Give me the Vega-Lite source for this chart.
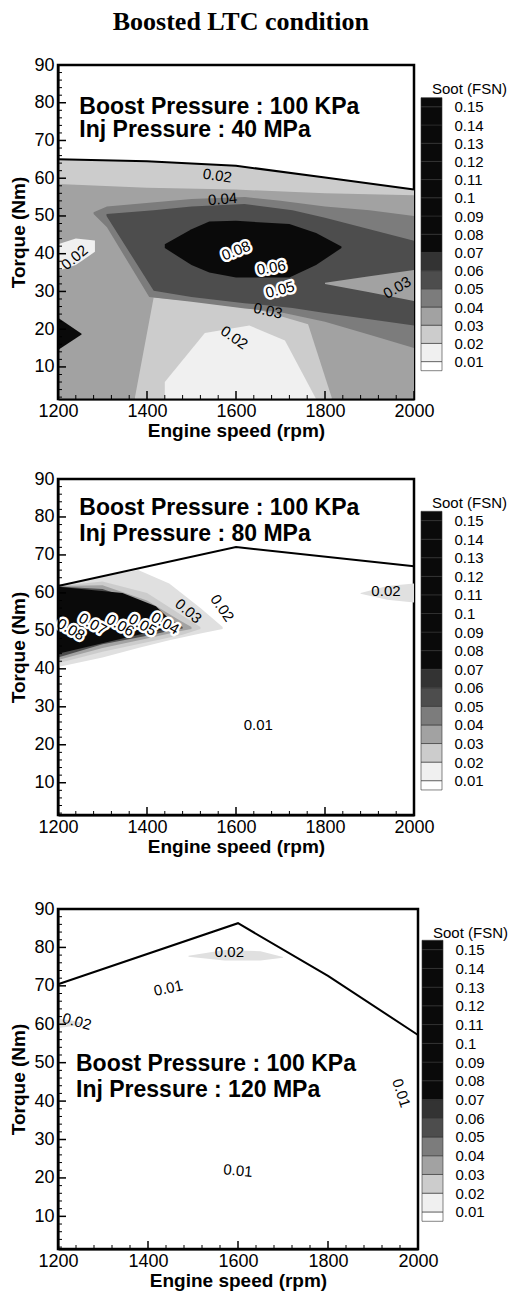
{
"$schema": "https://vega.github.io/schema/vega-lite/v6.json",
"padding": {"left": 8, "top": 8, "right": 0, "bottom": 0},
"background": "white",
"title": {"text": "Boosted LTC condition", "font": "Liberation Serif", "fontSize": 26, "fontWeight": "bold", "anchor": "start", "dx": 104, "offset": 20, "color": "black"},
"config": {
  "view": {"stroke": "black", "strokeWidth": 2.5},
  "text": {"font": "Liberation Sans", "fontSize": 15, "align": "center", "baseline": "middle", "color": "black"},
  "tick": {"opacity": 1, "color": "black"},
  "axis": {"labelFont": "Liberation Sans", "titleFont": "Liberation Sans", "labelColor": "black", "titleColor": "black", "tickColor": "black", "grid": false}
},
"datasets": {
  "xM": [{"v": 1200}, {"v": 1400}, {"v": 1600}, {"v": 1800}, {"v": 2000}],
  "xm": [{"v": 1240}, {"v": 1280}, {"v": 1320}, {"v": 1360}, {"v": 1440}, {"v": 1480}, {"v": 1520}, {"v": 1560}, {"v": 1640}, {"v": 1680}, {"v": 1720}, {"v": 1760}, {"v": 1840}, {"v": 1880}, {"v": 1920}, {"v": 1960}],
  "yM": [{"v": 10}, {"v": 20}, {"v": 30}, {"v": 40}, {"v": 50}, {"v": 60}, {"v": 70}, {"v": 80}, {"v": 90}],
  "ym": [{"v": 2}, {"v": 4}, {"v": 6}, {"v": 8}, {"v": 12}, {"v": 14}, {"v": 16}, {"v": 18}, {"v": 22}, {"v": 24}, {"v": 26}, {"v": 28}, {"v": 32}, {"v": 34}, {"v": 36}, {"v": 38}, {"v": 42}, {"v": 44}, {"v": 46}, {"v": 48}, {"v": 52}, {"v": 54}, {"v": 56}, {"v": 58}, {"v": 62}, {"v": 64}, {"v": 66}, {"v": 68}, {"v": 72}, {"v": 74}, {"v": 76}, {"v": 78}, {"v": 82}, {"v": 84}, {"v": 86}, {"v": 88}],
  "bar": [
    {"lo": 0.005, "hi": 0.01, "s": "L0"}, {"lo": 0.01, "hi": 0.02, "s": "L1"}, {"lo": 0.02, "hi": 0.03, "s": "L2"},
    {"lo": 0.03, "hi": 0.04, "s": "L3"}, {"lo": 0.04, "hi": 0.05, "s": "L4"}, {"lo": 0.05, "hi": 0.06, "s": "L5"},
    {"lo": 0.06, "hi": 0.07, "s": "L6"}, {"lo": 0.07, "hi": 0.08, "s": "L7"}, {"lo": 0.08, "hi": 0.09, "s": "L7"},
    {"lo": 0.09, "hi": 0.1, "s": "L7"}, {"lo": 0.1, "hi": 0.11, "s": "L7"}, {"lo": 0.11, "hi": 0.12, "s": "L7"},
    {"lo": 0.12, "hi": 0.13, "s": "L7"}, {"lo": 0.13, "hi": 0.14, "s": "L7"}, {"lo": 0.14, "hi": 0.15, "s": "L7"},
    {"lo": 0.15, "hi": 0.155, "s": "L7"}
  ],
  "p1reg": [
    {"r": 1, "s": "L2", "rpm": 1200, "lo": 1.5, "hi": 65}, {"r": 1, "s": "L2", "rpm": 1400, "lo": 1.5, "hi": 64.5}, {"r": 1, "s": "L2", "rpm": 1600, "lo": 1.5, "hi": 63.3}, {"r": 1, "s": "L2", "rpm": 1800, "lo": 1.5, "hi": 60.2}, {"r": 1, "s": "L2", "rpm": 2000, "lo": 1.5, "hi": 57},
    {"r": 2, "s": "L3", "rpm": 1200, "lo": 1.5, "hi": 58.5}, {"r": 2, "s": "L3", "rpm": 1400, "lo": 1.5, "hi": 57.5}, {"r": 2, "s": "L3", "rpm": 1600, "lo": 1.5, "hi": 57}, {"r": 2, "s": "L3", "rpm": 1800, "lo": 1.5, "hi": 56}, {"r": 2, "s": "L3", "rpm": 2000, "lo": 1.5, "hi": 55.5},
    {"r": 3, "s": "L2", "rpm": 1373, "lo": 1.5, "hi": 2}, {"r": 3, "s": "L2", "rpm": 1415, "lo": 1.5, "hi": 28.4}, {"r": 3, "s": "L2", "rpm": 1500, "lo": 1.5, "hi": 27.5}, {"r": 3, "s": "L2", "rpm": 1649, "lo": 1.5, "hi": 25.2}, {"r": 3, "s": "L2", "rpm": 1762, "lo": 1.5, "hi": 21.3}, {"r": 3, "s": "L2", "rpm": 1815, "lo": 1.5, "hi": 1.9},
    {"r": 4, "s": "L1", "rpm": 1440, "lo": 1.5, "hi": 6}, {"r": 4, "s": "L1", "rpm": 1530, "lo": 1.5, "hi": 19}, {"r": 4, "s": "L1", "rpm": 1630, "lo": 1.5, "hi": 21}, {"r": 4, "s": "L1", "rpm": 1710, "lo": 1.5, "hi": 17}, {"r": 4, "s": "L1", "rpm": 1780, "lo": 1.5, "hi": 1.5},
    {"r": 5, "s": "L1", "rpm": 1200, "lo": 35.5, "hi": 42.5}, {"r": 5, "s": "L1", "rpm": 1240, "lo": 37, "hi": 44}, {"r": 5, "s": "L1", "rpm": 1283, "lo": 40.5, "hi": 43.5},
    {"r": 6, "s": "L7", "rpm": 1200, "lo": 14.5, "hi": 23}, {"r": 6, "s": "L7", "rpm": 1253, "lo": 18.6, "hi": 18.8},
    {"r": 7, "s": "L4", "rpm": 1280, "lo": 50.5, "hi": 51}, {"r": 7, "s": "L4", "rpm": 1310, "lo": 47, "hi": 52.5}, {"r": 7, "s": "L4", "rpm": 1405, "lo": 28.5, "hi": 53.5}, {"r": 7, "s": "L4", "rpm": 1500, "lo": 27.3, "hi": 54.5}, {"r": 7, "s": "L4", "rpm": 1620, "lo": 25.5, "hi": 55}, {"r": 7, "s": "L4", "rpm": 1700, "lo": 24.5, "hi": 54}, {"r": 7, "s": "L4", "rpm": 1800, "lo": 22, "hi": 52.5}, {"r": 7, "s": "L4", "rpm": 1900, "lo": 18.5, "hi": 51.5}, {"r": 7, "s": "L4", "rpm": 2000, "lo": 15, "hi": 50},
    {"r": 8, "s": "L5", "rpm": 1309, "lo": 50, "hi": 50.5}, {"r": 8, "s": "L5", "rpm": 1415, "lo": 30.2, "hi": 51.5}, {"r": 8, "s": "L5", "rpm": 1500, "lo": 28.5, "hi": 52.5}, {"r": 8, "s": "L5", "rpm": 1619, "lo": 26.9, "hi": 53.2}, {"r": 8, "s": "L5", "rpm": 1727, "lo": 25.6, "hi": 51.5}, {"r": 8, "s": "L5", "rpm": 1800, "lo": 24.3, "hi": 49.5}, {"r": 8, "s": "L5", "rpm": 1900, "lo": 22.6, "hi": 46.5}, {"r": 8, "s": "L5", "rpm": 2000, "lo": 21, "hi": 43.4},
    {"r": 9, "s": "L3", "rpm": 1800, "lo": 32, "hi": 32.3}, {"r": 9, "s": "L3", "rpm": 1900, "lo": 29.8, "hi": 34}, {"r": 9, "s": "L3", "rpm": 2000, "lo": 27.5, "hi": 35.7},
    {"r": 11, "s": "L7", "rpm": 1440, "lo": 41.5, "hi": 42.5}, {"r": 11, "s": "L7", "rpm": 1500, "lo": 37, "hi": 46.5}, {"r": 11, "s": "L7", "rpm": 1540, "lo": 35, "hi": 48.5}, {"r": 11, "s": "L7", "rpm": 1600, "lo": 33.7, "hi": 48.7}, {"r": 11, "s": "L7", "rpm": 1720, "lo": 33.7, "hi": 47.9}, {"r": 11, "s": "L7", "rpm": 1780, "lo": 37, "hi": 45.5}, {"r": 11, "s": "L7", "rpm": 1837, "lo": 41.5, "hi": 41.9}
  ],
  "p1bnd": [{"rpm": 1200, "tq": 65}, {"rpm": 1400, "tq": 64.5}, {"rpm": 1600, "tq": 63.3}, {"rpm": 1800, "tq": 60.2}, {"rpm": 2000, "tq": 57}],
  "p2reg": [
    {"r": 1, "s": "Ld", "rpm": 1200, "lo": 40.5, "hi": 61.8}, {"r": 1, "s": "Ld", "rpm": 1300, "lo": 43, "hi": 64.3}, {"r": 1, "s": "Ld", "rpm": 1380, "lo": 45.5, "hi": 66}, {"r": 1, "s": "Ld", "rpm": 1450, "lo": 47.5, "hi": 62.5}, {"r": 1, "s": "Ld", "rpm": 1520, "lo": 49.3, "hi": 56}, {"r": 1, "s": "Ld", "rpm": 1570, "lo": 50.5, "hi": 51},
    {"r": 2, "s": "L2", "rpm": 1200, "lo": 41.5, "hi": 61.8}, {"r": 2, "s": "L2", "rpm": 1300, "lo": 44.5, "hi": 63}, {"r": 2, "s": "L2", "rpm": 1400, "lo": 47, "hi": 60}, {"r": 2, "s": "L2", "rpm": 1480, "lo": 49, "hi": 54}, {"r": 2, "s": "L2", "rpm": 1520, "lo": 50.5, "hi": 51},
    {"r": 3, "s": "L3", "rpm": 1200, "lo": 42.3, "hi": 61.8}, {"r": 3, "s": "L3", "rpm": 1300, "lo": 45.5, "hi": 62}, {"r": 3, "s": "L3", "rpm": 1400, "lo": 48, "hi": 58}, {"r": 3, "s": "L3", "rpm": 1470, "lo": 49.8, "hi": 53}, {"r": 3, "s": "L3", "rpm": 1500, "lo": 50.5, "hi": 51},
    {"r": 4, "s": "L5", "rpm": 1200, "lo": 43, "hi": 61.7}, {"r": 4, "s": "L5", "rpm": 1300, "lo": 46.5, "hi": 61}, {"r": 4, "s": "L5", "rpm": 1400, "lo": 48.7, "hi": 57}, {"r": 4, "s": "L5", "rpm": 1460, "lo": 50.2, "hi": 52.5}, {"r": 4, "s": "L5", "rpm": 1480, "lo": 50.6, "hi": 51},
    {"r": 5, "s": "L7", "rpm": 1200, "lo": 44, "hi": 61.6}, {"r": 5, "s": "L7", "rpm": 1345, "lo": 48, "hi": 60}, {"r": 5, "s": "L7", "rpm": 1420, "lo": 50, "hi": 56.5}, {"r": 5, "s": "L7", "rpm": 1470, "lo": 50.6, "hi": 50.9},
    {"r": 6, "s": "Ld", "rpm": 1880, "lo": 59.8, "hi": 60}, {"r": 6, "s": "Ld", "rpm": 1940, "lo": 58.2, "hi": 61.8}, {"r": 6, "s": "Ld", "rpm": 2000, "lo": 57.5, "hi": 62.5}
  ],
  "p2bnd": [{"rpm": 1200, "tq": 61.8}, {"rpm": 1600, "tq": 72.1}, {"rpm": 2000, "tq": 67}],
  "p3reg": [
    {"r": 1, "s": "Ld", "rpm": 1490, "lo": 77.6, "hi": 77.8}, {"r": 1, "s": "Ld", "rpm": 1570, "lo": 76.6, "hi": 79.3}, {"r": 1, "s": "Ld", "rpm": 1650, "lo": 76.6, "hi": 79}, {"r": 1, "s": "Ld", "rpm": 1700, "lo": 77.3, "hi": 77.5},
    {"r": 2, "s": "Ld", "rpm": 1200, "lo": 59, "hi": 61.5}, {"r": 2, "s": "Ld", "rpm": 1230, "lo": 59.5, "hi": 61}, {"r": 2, "s": "Ld", "rpm": 1255, "lo": 60, "hi": 60.3}
  ],
  "p3bnd": [{"rpm": 1200, "tq": 70.4}, {"rpm": 1600, "tq": 86.3}, {"rpm": 1800, "tq": 72.6}, {"rpm": 2000, "tq": 57.2}]
},
"spacing": 40,
"vconcat": [
 {
  "spacing": 26,
  "vconcat": [
   {
    "spacing": 7,
    "bounds": "flush",
    "hconcat": [
     {
      "width": 356, "height": 334,
      "resolve": {"axis": {"x": "independent", "y": "independent"}},
      "layer": [
       {
        "data": {"name": "p1reg"},
        "mark": {"type": "area"},
        "encoding": {
         "x": {"field": "rpm", "type": "quantitative", "scale": {"domain": [1200, 2000], "nice": false, "zero": false},
               "axis": {"orient": "bottom", "values": [1200, 1400, 1600, 1800, 2000], "format": "d", "title": "Engine speed (rpm)", "titleFontSize": 19, "titleFontWeight": "bold", "titlePadding": 1, "labelFontSize": 18, "labelPadding": 3, "ticks": false, "domain": true, "domainWidth": 2, "domainColor": "black", "labelFlush": false, "labelOverlap": false, "zindex": 1}},
         "y": {"field": "lo", "type": "quantitative", "stack": null, "scale": {"domain": [1.5, 90], "nice": false, "zero": false},
               "axis": {"orient": "left", "values": [10, 20, 30, 40, 50, 60, 70, 80, 90], "title": "Torque (Nm)", "titleFontSize": 19, "titleFontWeight": "bold", "titlePadding": 5, "labelFontSize": 18, "labelPadding": 4, "ticks": false, "domain": true, "domainWidth": 2, "domainColor": "black", "labelFlush": false, "labelOverlap": false, "zindex": 1}},
         "y2": {"field": "hi"},
         "fill": {"field": "s", "type": "nominal", "scale": {"domain": ["L0", "L1", "Ld", "L2", "L3", "L4", "L5", "L6", "L7"], "range": ["#ffffff", "#f0f0f0", "#e0e0e0", "#cccccc", "#a2a2a2", "#7c7c7c", "#4d4d4d", "#333333", "#0a0a0a"]}, "legend": null},
         "detail": {"field": "r"}
        }
       },
       {"data": {"name": "p1bnd"}, "mark": {"type": "line", "color": "black", "strokeWidth": 2},
        "encoding": {"x": {"field": "rpm", "type": "quantitative", "axis": null}, "y": {"field": "tq", "type": "quantitative", "axis": null}}},
       {"data": {"name": "xM"}, "mark": {"type": "tick", "orient": "vertical", "size": 16, "thickness": 1.5, "clip": true},
        "encoding": {"x": {"field": "v", "type": "quantitative", "axis": null}, "y": {"datum": 1.5, "type": "quantitative", "axis": null}}},
       {"data": {"name": "xm"}, "mark": {"type": "tick", "orient": "vertical", "size": 8, "thickness": 1, "clip": true},
        "encoding": {"x": {"field": "v", "type": "quantitative", "axis": null}, "y": {"datum": 1.5, "type": "quantitative", "axis": null}}},
       {"data": {"name": "yM"}, "mark": {"type": "tick", "orient": "horizontal", "size": 16, "thickness": 1.5, "clip": true},
        "encoding": {"y": {"field": "v", "type": "quantitative", "axis": null}, "x": {"datum": 1200, "type": "quantitative", "axis": null}}},
       {"data": {"name": "ym"}, "mark": {"type": "tick", "orient": "horizontal", "size": 8, "thickness": 1, "clip": true},
        "encoding": {"y": {"field": "v", "type": "quantitative", "axis": null}, "x": {"datum": 1200, "type": "quantitative", "axis": null}}},
       {
        "encoding": {"x": {"field": "rpm", "type": "quantitative", "axis": null}, "y": {"field": "tq", "type": "quantitative", "axis": null}, "text": {"field": "t"}},
        "layer": [
         {"data": {"values": [{"rpm": 1558, "tq": 60.7, "t": "0.02"}]}, "mark": {"type": "text", "angle": 8}},
         {"data": {"values": [{"rpm": 1570, "tq": 54.5, "t": "0.04"}]}, "mark": {"type": "text", "angle": -5}},
         {"data": {"values": [{"rpm": 1237, "tq": 39, "t": "0.02"}]}, "mark": {"type": "text", "angle": -40}},
         {"data": {"values": [{"rpm": 1600, "tq": 40.8, "t": "0.08"}]}, "mark": {"type": "text", "angle": -22, "fill": "white", "stroke": "white", "strokeWidth": 5, "strokeJoin": "round"}},
         {"data": {"values": [{"rpm": 1600, "tq": 40.8, "t": "0.08"}]}, "mark": {"type": "text", "angle": -22}},
         {"data": {"values": [{"rpm": 1679, "tq": 36.3, "t": "0.06"}]}, "mark": {"type": "text", "angle": -10, "fill": "white", "stroke": "white", "strokeWidth": 5, "strokeJoin": "round"}},
         {"data": {"values": [{"rpm": 1679, "tq": 36.3, "t": "0.06"}]}, "mark": {"type": "text", "angle": -10}},
         {"data": {"values": [{"rpm": 1699, "tq": 30.5, "t": "0.05"}]}, "mark": {"type": "text", "angle": -14, "fill": "white", "stroke": "white", "strokeWidth": 5, "strokeJoin": "round"}},
         {"data": {"values": [{"rpm": 1699, "tq": 30.5, "t": "0.05"}]}, "mark": {"type": "text", "angle": -14}},
         {"data": {"values": [{"rpm": 1672, "tq": 24.9, "t": "0.03"}]}, "mark": {"type": "text", "angle": 12}},
         {"data": {"values": [{"rpm": 1596, "tq": 17.8, "t": "0.02"}]}, "mark": {"type": "text", "angle": 35}},
         {"data": {"values": [{"rpm": 1962, "tq": 31, "t": "0.03"}]}, "mark": {"type": "text", "angle": -30}},
         {"data": {"values": [{"rpm": 1248, "tq": 77.1, "t": "Boost Pressure : 100 KPa"}, {"rpm": 1248, "tq": 71, "t": "Inj Pressure : 40 MPa"}]}, "mark": {"type": "text", "align": "left", "baseline": "alphabetic", "fontSize": 23, "fontWeight": "bold"}}
        ]
       }
      ]
     },
     {
      "width": 21, "height": 334,
      "view": {"stroke": null},
      "title": {"text": "Soot (FSN)", "fontSize": 15, "fontWeight": "normal", "font": "Liberation Sans", "anchor": "start", "frame": "group", "dx": 11, "offset": -44, "baseline": "alphabetic", "color": "black"},
      "data": {"name": "bar"},
      "mark": {"type": "rect", "stroke": "#333333", "strokeWidth": 0.6},
      "encoding": {
       "y": {"field": "lo", "type": "quantitative", "scale": {"domain": [-0.01055, 0.17297], "nice": false, "zero": false},
             "axis": {"orient": "right", "values": [0.01, 0.02, 0.03, 0.04, 0.05, 0.06, 0.07, 0.08, 0.09, 0.1, 0.11, 0.12, 0.13, 0.14, 0.15], "format": "~f", "domain": false, "ticks": false, "labelPadding": 12, "labelFontSize": 15, "title": null, "labelOverlap": false, "labelFlush": false}},
       "y2": {"field": "hi"},
       "fill": {"field": "s", "type": "nominal", "scale": {"domain": ["L0", "L1", "Ld", "L2", "L3", "L4", "L5", "L6", "L7"], "range": ["#ffffff", "#f0f0f0", "#e0e0e0", "#cccccc", "#a2a2a2", "#7c7c7c", "#4d4d4d", "#333333", "#0a0a0a"]}, "legend": null}
      }
     }
    ]
   },
   {
    "spacing": 7,
    "bounds": "flush",
    "hconcat": [
     {
      "width": 356, "height": 336,
      "resolve": {"axis": {"x": "independent", "y": "independent"}},
      "layer": [
       {
        "data": {"name": "p2reg"},
        "mark": {"type": "area"},
        "encoding": {
         "x": {"field": "rpm", "type": "quantitative", "scale": {"domain": [1200, 2000], "nice": false, "zero": false},
               "axis": {"orient": "bottom", "values": [1200, 1400, 1600, 1800, 2000], "format": "d", "title": "Engine speed (rpm)", "titleFontSize": 19, "titleFontWeight": "bold", "titlePadding": 1, "labelFontSize": 18, "labelPadding": 3, "ticks": false, "domain": true, "domainWidth": 2, "domainColor": "black", "labelFlush": false, "labelOverlap": false, "zindex": 1}},
         "y": {"field": "lo", "type": "quantitative", "stack": null, "scale": {"domain": [1.5, 90], "nice": false, "zero": false},
               "axis": {"orient": "left", "values": [10, 20, 30, 40, 50, 60, 70, 80, 90], "title": "Torque (Nm)", "titleFontSize": 19, "titleFontWeight": "bold", "titlePadding": 5, "labelFontSize": 18, "labelPadding": 4, "ticks": false, "domain": true, "domainWidth": 2, "domainColor": "black", "labelFlush": false, "labelOverlap": false, "zindex": 1}},
         "y2": {"field": "hi"},
         "fill": {"field": "s", "type": "nominal", "scale": {"domain": ["L0", "L1", "Ld", "L2", "L3", "L4", "L5", "L6", "L7"], "range": ["#ffffff", "#f0f0f0", "#e0e0e0", "#cccccc", "#a2a2a2", "#7c7c7c", "#4d4d4d", "#333333", "#0a0a0a"]}, "legend": null},
         "detail": {"field": "r"}
        }
       },
       {"data": {"name": "p2bnd"}, "mark": {"type": "line", "color": "black", "strokeWidth": 2},
        "encoding": {"x": {"field": "rpm", "type": "quantitative", "axis": null}, "y": {"field": "tq", "type": "quantitative", "axis": null}}},
       {"data": {"name": "xM"}, "mark": {"type": "tick", "orient": "vertical", "size": 16, "thickness": 1.5, "clip": true},
        "encoding": {"x": {"field": "v", "type": "quantitative", "axis": null}, "y": {"datum": 1.5, "type": "quantitative", "axis": null}}},
       {"data": {"name": "xm"}, "mark": {"type": "tick", "orient": "vertical", "size": 8, "thickness": 1, "clip": true},
        "encoding": {"x": {"field": "v", "type": "quantitative", "axis": null}, "y": {"datum": 1.5, "type": "quantitative", "axis": null}}},
       {"data": {"name": "yM"}, "mark": {"type": "tick", "orient": "horizontal", "size": 16, "thickness": 1.5, "clip": true},
        "encoding": {"y": {"field": "v", "type": "quantitative", "axis": null}, "x": {"datum": 1200, "type": "quantitative", "axis": null}}},
       {"data": {"name": "ym"}, "mark": {"type": "tick", "orient": "horizontal", "size": 8, "thickness": 1, "clip": true},
        "encoding": {"y": {"field": "v", "type": "quantitative", "axis": null}, "x": {"datum": 1200, "type": "quantitative", "axis": null}}},
       {
        "encoding": {"x": {"field": "rpm", "type": "quantitative", "axis": null}, "y": {"field": "tq", "type": "quantitative", "axis": null}, "text": {"field": "t"}},
        "layer": [
         {"data": {"values": [{"rpm": 1229, "tq": 50.4, "t": "0.08"}, {"rpm": 1278, "tq": 51.8, "t": "0.07"}, {"rpm": 1340, "tq": 51.5, "t": "0.06"}, {"rpm": 1390, "tq": 51.6, "t": "0.05"}, {"rpm": 1441, "tq": 52, "t": "0.04"}]}, "mark": {"type": "text", "angle": 30, "fill": "white", "stroke": "white", "strokeWidth": 5, "strokeJoin": "round"}},
         {"data": {"values": [{"rpm": 1229, "tq": 50.4, "t": "0.08"}, {"rpm": 1278, "tq": 51.8, "t": "0.07"}, {"rpm": 1340, "tq": 51.5, "t": "0.06"}, {"rpm": 1390, "tq": 51.6, "t": "0.05"}, {"rpm": 1441, "tq": 52, "t": "0.04"}]}, "mark": {"type": "text", "angle": 30}},
         {"data": {"values": [{"rpm": 1493, "tq": 55.2, "t": "0.03"}]}, "mark": {"type": "text", "angle": 40}},
         {"data": {"values": [{"rpm": 1569, "tq": 56, "t": "0.02"}]}, "mark": {"type": "text", "angle": 55}},
         {"data": {"values": [{"rpm": 1937, "tq": 60.4, "t": "0.02"}, {"rpm": 1650, "tq": 25.3, "t": "0.01"}]}, "mark": {"type": "text"}},
         {"data": {"values": [{"rpm": 1248, "tq": 80.6, "t": "Boost Pressure : 100 KPa"}, {"rpm": 1248, "tq": 73.8, "t": "Inj Pressure : 80 MPa"}]}, "mark": {"type": "text", "align": "left", "baseline": "alphabetic", "fontSize": 23, "fontWeight": "bold"}}
        ]
       }
      ]
     },
     {
      "width": 21, "height": 336,
      "view": {"stroke": null},
      "title": {"text": "Soot (FSN)", "fontSize": 15, "fontWeight": "normal", "font": "Liberation Sans", "anchor": "start", "frame": "group", "dx": 11, "offset": -44, "baseline": "alphabetic", "color": "black"},
      "data": {"name": "bar"},
      "mark": {"type": "rect", "stroke": "#333333", "strokeWidth": 0.6},
      "encoding": {
       "y": {"field": "lo", "type": "quantitative", "scale": {"domain": [-0.00848, 0.1724], "nice": false, "zero": false},
             "axis": {"orient": "right", "values": [0.01, 0.02, 0.03, 0.04, 0.05, 0.06, 0.07, 0.08, 0.09, 0.1, 0.11, 0.12, 0.13, 0.14, 0.15], "format": "~f", "domain": false, "ticks": false, "labelPadding": 12, "labelFontSize": 15, "title": null, "labelOverlap": false, "labelFlush": false}},
       "y2": {"field": "hi"},
       "fill": {"field": "s", "type": "nominal", "scale": {"domain": ["L0", "L1", "Ld", "L2", "L3", "L4", "L5", "L6", "L7"], "range": ["#ffffff", "#f0f0f0", "#e0e0e0", "#cccccc", "#a2a2a2", "#7c7c7c", "#4d4d4d", "#333333", "#0a0a0a"]}, "legend": null}
      }
     }
    ]
   }
  ]
 },
 {
  "spacing": 4,
  "bounds": "flush",
  "hconcat": [
   {
    "width": 360, "height": 340,
    "resolve": {"axis": {"x": "independent", "y": "independent"}},
    "layer": [
     {
      "data": {"name": "p3reg"},
      "mark": {"type": "area"},
      "encoding": {
       "x": {"field": "rpm", "type": "quantitative", "scale": {"domain": [1200, 2000], "nice": false, "zero": false},
             "axis": {"orient": "bottom", "values": [1200, 1400, 1600, 1800, 2000], "format": "d", "title": "Engine speed (rpm)", "titleFontSize": 19, "titleFontWeight": "bold", "titlePadding": 1, "labelFontSize": 18, "labelPadding": 3, "ticks": false, "domain": true, "domainWidth": 2, "domainColor": "black", "labelFlush": false, "labelOverlap": false, "zindex": 1}},
       "y": {"field": "lo", "type": "quantitative", "stack": null, "scale": {"domain": [1.5, 90], "nice": false, "zero": false},
             "axis": {"orient": "left", "values": [10, 20, 30, 40, 50, 60, 70, 80, 90], "title": "Torque (Nm)", "titleFontSize": 19, "titleFontWeight": "bold", "titlePadding": 5, "labelFontSize": 18, "labelPadding": 4, "ticks": false, "domain": true, "domainWidth": 2, "domainColor": "black", "labelFlush": false, "labelOverlap": false, "zindex": 1}},
       "y2": {"field": "hi"},
       "fill": {"field": "s", "type": "nominal", "scale": {"domain": ["L0", "L1", "Ld", "L2", "L3", "L4", "L5", "L6", "L7"], "range": ["#ffffff", "#f0f0f0", "#e0e0e0", "#cccccc", "#a2a2a2", "#7c7c7c", "#4d4d4d", "#333333", "#0a0a0a"]}, "legend": null},
       "detail": {"field": "r"}
      }
     },
     {"data": {"name": "p3bnd"}, "mark": {"type": "line", "color": "black", "strokeWidth": 2},
      "encoding": {"x": {"field": "rpm", "type": "quantitative", "axis": null}, "y": {"field": "tq", "type": "quantitative", "axis": null}}},
     {"data": {"name": "xM"}, "mark": {"type": "tick", "orient": "vertical", "size": 16, "thickness": 1.5, "clip": true},
      "encoding": {"x": {"field": "v", "type": "quantitative", "axis": null}, "y": {"datum": 1.5, "type": "quantitative", "axis": null}}},
     {"data": {"name": "xm"}, "mark": {"type": "tick", "orient": "vertical", "size": 8, "thickness": 1, "clip": true},
      "encoding": {"x": {"field": "v", "type": "quantitative", "axis": null}, "y": {"datum": 1.5, "type": "quantitative", "axis": null}}},
     {"data": {"name": "yM"}, "mark": {"type": "tick", "orient": "horizontal", "size": 16, "thickness": 1.5, "clip": true},
      "encoding": {"y": {"field": "v", "type": "quantitative", "axis": null}, "x": {"datum": 1200, "type": "quantitative", "axis": null}}},
     {"data": {"name": "ym"}, "mark": {"type": "tick", "orient": "horizontal", "size": 8, "thickness": 1, "clip": true},
      "encoding": {"y": {"field": "v", "type": "quantitative", "axis": null}, "x": {"datum": 1200, "type": "quantitative", "axis": null}}},
     {
      "encoding": {"x": {"field": "rpm", "type": "quantitative", "axis": null}, "y": {"field": "tq", "type": "quantitative", "axis": null}, "text": {"field": "t"}},
      "layer": [
       {"data": {"values": [{"rpm": 1581, "tq": 78.8, "t": "0.02"}]}, "mark": {"type": "text"}},
       {"data": {"values": [{"rpm": 1445, "tq": 69.4, "t": "0.01"}]}, "mark": {"type": "text", "angle": -12}},
       {"data": {"values": [{"rpm": 1242, "tq": 60.7, "t": "0.02"}]}, "mark": {"type": "text", "angle": 15}},
       {"data": {"values": [{"rpm": 1963, "tq": 42.1, "t": "0.01"}]}, "mark": {"type": "text", "angle": 72}},
       {"data": {"values": [{"rpm": 1600, "tq": 21.9, "t": "0.01"}]}, "mark": {"type": "text", "angle": 5}},
       {"data": {"values": [{"rpm": 1240, "tq": 47.8, "t": "Boost Pressure : 100 KPa"}, {"rpm": 1240, "tq": 41.1, "t": "Inj Pressure : 120 MPa"}]}, "mark": {"type": "text", "align": "left", "baseline": "alphabetic", "fontSize": 23, "fontWeight": "bold"}}
      ]
     }
    ]
   },
   {
    "width": 21, "height": 340,
    "view": {"stroke": null},
    "title": {"text": "Soot (FSN)", "fontSize": 15, "fontWeight": "normal", "font": "Liberation Sans", "anchor": "start", "frame": "group", "dx": 11, "offset": -44, "baseline": "alphabetic", "color": "black"},
    "data": {"name": "bar"},
    "mark": {"type": "rect", "stroke": "#333333", "strokeWidth": 0.6},
    "encoding": {
     "y": {"field": "lo", "type": "quantitative", "scale": {"domain": [-0.00979, 0.1717], "nice": false, "zero": false},
           "axis": {"orient": "right", "values": [0.01, 0.02, 0.03, 0.04, 0.05, 0.06, 0.07, 0.08, 0.09, 0.1, 0.11, 0.12, 0.13, 0.14, 0.15], "format": "~f", "domain": false, "ticks": false, "labelPadding": 12, "labelFontSize": 15, "title": null, "labelOverlap": false, "labelFlush": false}},
     "y2": {"field": "hi"},
     "fill": {"field": "s", "type": "nominal", "scale": {"domain": ["L0", "L1", "Ld", "L2", "L3", "L4", "L5", "L6", "L7"], "range": ["#ffffff", "#f0f0f0", "#e0e0e0", "#cccccc", "#a2a2a2", "#7c7c7c", "#4d4d4d", "#333333", "#0a0a0a"]}, "legend": null}
    }
   }
  ]
 }
]
}
